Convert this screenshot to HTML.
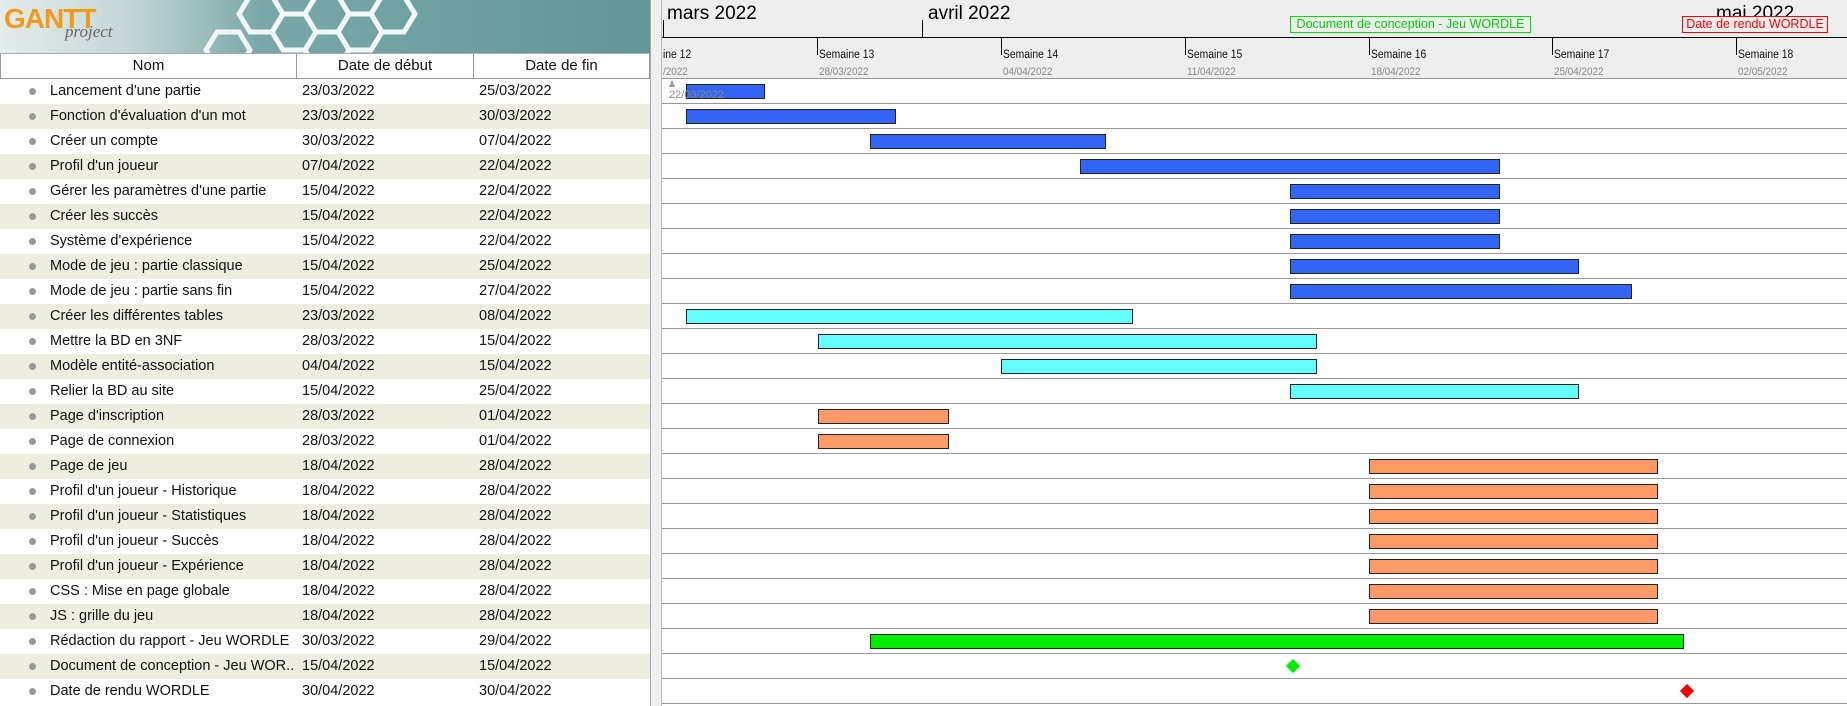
<!DOCTYPE html>
<html><head><meta charset="utf-8"><style>
*{margin:0;padding:0;box-sizing:border-box}
body{width:1847px;height:706px;overflow:hidden;background:#fff;font-family:"Liberation Sans",sans-serif;position:relative}
.a{position:absolute}
#left{left:0;top:0;width:650px;height:706px;background:#fff}
#hdr{left:0;top:0;width:650px;height:53px;background:linear-gradient(90deg,#e4ecec 0%,#c4d6d6 20%,#7aa8a8 40%,#629797 100%);overflow:hidden}
.ch{top:53px;height:26px;border:1px solid #999;border-top:1px solid #aaa;background:#fff;font-size:15px;text-align:center;line-height:24px;color:#111}
.r{left:0;width:650px;height:25px;font-size:14.5px;color:#111;line-height:25px;white-space:nowrap}
.r.o{background:#eeeee0}
.r span{position:absolute}
.r i{position:absolute;left:29px;top:9px;width:7px;height:7px;border-radius:50%;background:#999}
#split{left:650px;top:0;width:12px;height:706px;background:#f0f0f0;border-left:1px solid #aaa;border-right:1px solid #bbb}
#ch{left:662px;top:0;width:1185px;height:79px;background:#eeeeee;border-bottom:1px solid #999}
.gl{left:662px;width:1185px;height:1px;background:#999}
.b{position:absolute;height:15px;border:1px solid #222}
.bl{background:#3265f5}.cy{background:#66ffff}.or{background:#ff9966}.gr{background:#00ee00}
.wk{position:absolute;top:38px;width:1px;height:17px;background:#000}
.wl{position:absolute;top:49px;font-size:11.5px;color:#111;transform:scaleX(.9);transform-origin:left}
.wd{position:absolute;top:66px;font-size:11px;color:#888;transform:scaleX(.9);transform-origin:left}
.mo{position:absolute;top:3px;font-size:19px;color:#000}
</style></head><body>
<div id="left" class="a">
<div id="hdr" class="a">
<svg width="650" height="53" style="position:absolute;left:0;top:0">
<g fill="none" stroke="#f2f7f7" stroke-width="5">
<path d="M250 -4 h22 l11 18 l-11 18 h-22 l-11 -18z"/>
<path d="M283 14 h22 l11 18 l-11 18 h-22 l-11 -18z"/>
<path d="M316 -4 h22 l11 18 l-11 18 h-22 l-11 -18z"/>
<path d="M349 14 h22 l11 18 l-11 18 h-22 l-11 -18z"/>
<path d="M382 -4 h22 l11 18 l-11 18 h-22 l-11 -18z"/>
<path d="M217 32 h22 l11 18 l-11 18 h-22 l-11 -18z"/>
<path d="M316 32 h22 l11 18 l-11 18 h-22 l-11 -18z"/>
</g></svg>
<div class="a" style="left:4px;top:3px;font-size:28px;font-weight:bold;color:#f39a1a;letter-spacing:-1px">GANTT</div>
<div class="a" style="left:65px;top:22px;font-size:17px;font-style:italic;color:#666;font-family:'Liberation Serif',serif">project</div>
</div>
<div class="a ch" style="left:0;width:297px">Nom</div>
<div class="a ch" style="left:296px;width:178px">Date de début</div>
<div class="a ch" style="left:473px;width:177px">Date de fin</div>
<div class="a r" style="top:79px"><i></i><span style="left:50px">Lancement d'une partie</span><span style="left:302px">23/03/2022</span><span style="left:479px">25/03/2022</span></div>
<div class="a r o" style="top:104px"><i></i><span style="left:50px">Fonction d'évaluation d'un mot</span><span style="left:302px">23/03/2022</span><span style="left:479px">30/03/2022</span></div>
<div class="a r" style="top:129px"><i></i><span style="left:50px">Créer un compte</span><span style="left:302px">30/03/2022</span><span style="left:479px">07/04/2022</span></div>
<div class="a r o" style="top:154px"><i></i><span style="left:50px">Profil d'un joueur</span><span style="left:302px">07/04/2022</span><span style="left:479px">22/04/2022</span></div>
<div class="a r" style="top:179px"><i></i><span style="left:50px">Gérer les paramètres d'une partie</span><span style="left:302px">15/04/2022</span><span style="left:479px">22/04/2022</span></div>
<div class="a r o" style="top:204px"><i></i><span style="left:50px">Créer les succès</span><span style="left:302px">15/04/2022</span><span style="left:479px">22/04/2022</span></div>
<div class="a r" style="top:229px"><i></i><span style="left:50px">Système d'expérience</span><span style="left:302px">15/04/2022</span><span style="left:479px">22/04/2022</span></div>
<div class="a r o" style="top:254px"><i></i><span style="left:50px">Mode de jeu : partie classique</span><span style="left:302px">15/04/2022</span><span style="left:479px">25/04/2022</span></div>
<div class="a r" style="top:279px"><i></i><span style="left:50px">Mode de jeu : partie sans fin</span><span style="left:302px">15/04/2022</span><span style="left:479px">27/04/2022</span></div>
<div class="a r o" style="top:304px"><i></i><span style="left:50px">Créer les différentes tables</span><span style="left:302px">23/03/2022</span><span style="left:479px">08/04/2022</span></div>
<div class="a r" style="top:329px"><i></i><span style="left:50px">Mettre la BD en 3NF</span><span style="left:302px">28/03/2022</span><span style="left:479px">15/04/2022</span></div>
<div class="a r o" style="top:354px"><i></i><span style="left:50px">Modèle entité-association</span><span style="left:302px">04/04/2022</span><span style="left:479px">15/04/2022</span></div>
<div class="a r" style="top:379px"><i></i><span style="left:50px">Relier la BD au site</span><span style="left:302px">15/04/2022</span><span style="left:479px">25/04/2022</span></div>
<div class="a r o" style="top:404px"><i></i><span style="left:50px">Page d'inscription</span><span style="left:302px">28/03/2022</span><span style="left:479px">01/04/2022</span></div>
<div class="a r" style="top:429px"><i></i><span style="left:50px">Page de connexion</span><span style="left:302px">28/03/2022</span><span style="left:479px">01/04/2022</span></div>
<div class="a r o" style="top:454px"><i></i><span style="left:50px">Page de jeu</span><span style="left:302px">18/04/2022</span><span style="left:479px">28/04/2022</span></div>
<div class="a r" style="top:479px"><i></i><span style="left:50px">Profil d'un joueur - Historique</span><span style="left:302px">18/04/2022</span><span style="left:479px">28/04/2022</span></div>
<div class="a r o" style="top:504px"><i></i><span style="left:50px">Profil d'un joueur - Statistiques</span><span style="left:302px">18/04/2022</span><span style="left:479px">28/04/2022</span></div>
<div class="a r" style="top:529px"><i></i><span style="left:50px">Profil d'un joueur - Succès</span><span style="left:302px">18/04/2022</span><span style="left:479px">28/04/2022</span></div>
<div class="a r o" style="top:554px"><i></i><span style="left:50px">Profil d'un joueur - Expérience</span><span style="left:302px">18/04/2022</span><span style="left:479px">28/04/2022</span></div>
<div class="a r" style="top:579px"><i></i><span style="left:50px">CSS : Mise en page globale</span><span style="left:302px">18/04/2022</span><span style="left:479px">28/04/2022</span></div>
<div class="a r o" style="top:604px"><i></i><span style="left:50px">JS : grille du jeu</span><span style="left:302px">18/04/2022</span><span style="left:479px">28/04/2022</span></div>
<div class="a r" style="top:629px"><i></i><span style="left:50px">Rédaction du rapport - Jeu WORDLE</span><span style="left:302px">30/03/2022</span><span style="left:479px">29/04/2022</span></div>
<div class="a r o" style="top:654px"><i></i><span style="left:50px">Document de conception - Jeu WOR..</span><span style="left:302px">15/04/2022</span><span style="left:479px">15/04/2022</span></div>
<div class="a r" style="top:679px"><i></i><span style="left:50px">Date de rendu WORDLE</span><span style="left:302px">30/04/2022</span><span style="left:479px">30/04/2022</span></div>
</div>
<div id="split" class="a"></div>
<div id="ch" class="a">
<div class="a" style="left:0;top:37px;width:1185px;height:1px;background:#000"></div>
<div class="a" style="left:1px;top:20px;width:1px;height:18px;background:#000"></div>
<div class="a" style="left:260px;top:20px;width:1px;height:18px;background:#000"></div>
<div class="mo" style="left:5px">mars 2022</div>
<div class="mo" style="left:266px">avril 2022</div>
<div class="mo" style="left:1054px">mai 2022</div>
<div class="a" style="left:628px;top:16px;width:241px;height:17px;border:1px solid #00e000;background:#eee;color:#00d000;font-size:12.5px;line-height:15px;text-align:center;white-space:nowrap">Document de conception - Jeu WORDLE</div>
<div class="a" style="left:1020px;top:16px;width:146px;height:17px;border:1px solid #f00;background:#eee;color:#f00;font-size:12.5px;line-height:15px;text-align:center;white-space:nowrap">Date de rendu WORDLE</div>
<div class="wk" style="left:155px"></div><div class="wk" style="left:339px"></div><div class="wk" style="left:523px"></div><div class="wk" style="left:707px"></div><div class="wk" style="left:890px"></div><div class="wk" style="left:1074px"></div>
<div class="wl" style="left:1px">ine 12</div><div class="wd" style="left:1px">/2022</div>
<div class="wl" style="left:157px">Semaine 13</div><div class="wd" style="left:157px">28/03/2022</div>
<div class="wl" style="left:341px">Semaine 14</div><div class="wd" style="left:341px">04/04/2022</div>
<div class="wl" style="left:525px">Semaine 15</div><div class="wd" style="left:525px">11/04/2022</div>
<div class="wl" style="left:709px">Semaine 16</div><div class="wd" style="left:709px">18/04/2022</div>
<div class="wl" style="left:892px">Semaine 17</div><div class="wd" style="left:892px">25/04/2022</div>
<div class="wl" style="left:1076px">Semaine 18</div><div class="wd" style="left:1076px">02/05/2022</div>
</div>
<div class="gl a" style="top:103px"></div><div class="gl a" style="top:128px"></div><div class="gl a" style="top:153px"></div><div class="gl a" style="top:178px"></div><div class="gl a" style="top:203px"></div><div class="gl a" style="top:228px"></div><div class="gl a" style="top:253px"></div><div class="gl a" style="top:278px"></div><div class="gl a" style="top:303px"></div><div class="gl a" style="top:328px"></div><div class="gl a" style="top:353px"></div><div class="gl a" style="top:378px"></div><div class="gl a" style="top:403px"></div><div class="gl a" style="top:428px"></div><div class="gl a" style="top:453px"></div><div class="gl a" style="top:478px"></div><div class="gl a" style="top:503px"></div><div class="gl a" style="top:528px"></div><div class="gl a" style="top:553px"></div><div class="gl a" style="top:578px"></div><div class="gl a" style="top:603px"></div><div class="gl a" style="top:628px"></div><div class="gl a" style="top:653px"></div><div class="gl a" style="top:678px"></div><div class="gl a" style="top:703px"></div>
<div class="a" style="left:669px;top:80px;width:0;height:0;border-left:3px solid transparent;border-right:3px solid transparent;border-bottom:7px solid #999"></div>
<div class="b bl" style="left:686px;top:84px;width:79px"></div>
<div class="a" style="left:669px;top:89px;font-size:11px;color:#888">22/03/2022</div>
<div class="b bl" style="left:686px;top:109px;width:210px"></div>
<div class="b bl" style="left:870px;top:134px;width:236px"></div>
<div class="b bl" style="left:1080px;top:159px;width:420px"></div>
<div class="b bl" style="left:1290px;top:184px;width:210px"></div>
<div class="b bl" style="left:1290px;top:209px;width:210px"></div>
<div class="b bl" style="left:1290px;top:234px;width:210px"></div>
<div class="b bl" style="left:1290px;top:259px;width:289px"></div>
<div class="b bl" style="left:1290px;top:284px;width:342px"></div>
<div class="b cy" style="left:686px;top:309px;width:447px"></div>
<div class="b cy" style="left:818px;top:334px;width:499px"></div>
<div class="b cy" style="left:1001px;top:359px;width:316px"></div>
<div class="b cy" style="left:1290px;top:384px;width:289px"></div>
<div class="b or" style="left:818px;top:409px;width:131px"></div>
<div class="b or" style="left:818px;top:434px;width:131px"></div>
<div class="b or" style="left:1369px;top:459px;width:289px"></div>
<div class="b or" style="left:1369px;top:484px;width:289px"></div>
<div class="b or" style="left:1369px;top:509px;width:289px"></div>
<div class="b or" style="left:1369px;top:534px;width:289px"></div>
<div class="b or" style="left:1369px;top:559px;width:289px"></div>
<div class="b or" style="left:1369px;top:584px;width:289px"></div>
<div class="b or" style="left:1369px;top:609px;width:289px"></div>
<div class="b gr" style="left:870px;top:634px;width:814px"></div>
<div class="a" style="left:1288px;top:661px;width:10px;height:10px;background:#00ee00;transform:rotate(45deg)"></div>
<div class="a" style="left:1682px;top:686px;width:10px;height:10px;background:#ee0000;transform:rotate(45deg)"></div>
</body></html>
